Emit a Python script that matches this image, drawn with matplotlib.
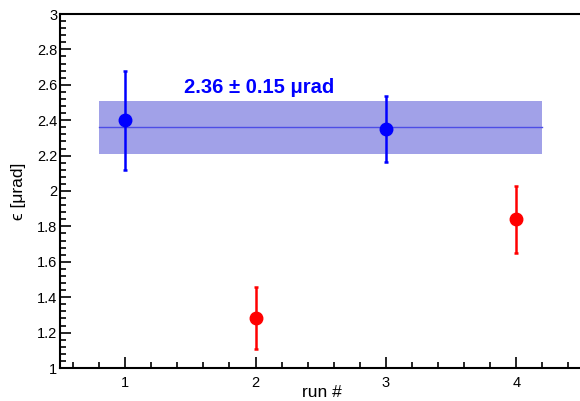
import matplotlib
matplotlib.use("Agg")
import matplotlib.pyplot as plt
from matplotlib.ticker import MultipleLocator

plt.rcParams['font.family'] = ['Liberation Sans', 'DejaVu Sans']

# data
runs_in = [1, 3]
eps_in = [2.40, 2.35]
err_in = [0.28, 0.185]

runs_out = [2, 4]
eps_out = [1.285, 1.84]
err_out = [0.175, 0.19]

mean_val = 2.36
mean_err = 0.15
band_x = [0.8, 4.2]

fig = plt.figure(figsize=(5.8, 4.01), dpi=100)
ax = fig.add_axes([60 / 580, 33 / 401, 524 / 580, 354 / 401])

# average band + line
ax.fill_between(band_x, mean_val - mean_err, mean_val + mean_err,
                color=(0.63, 0.63, 0.91), lw=0, zorder=1)
ax.plot(band_x, [mean_val, mean_val], color=(0.3, 0.3, 0.9), lw=1, zorder=2)

ax.errorbar(runs_in, eps_in, yerr=err_in, fmt='o', color='blue', ms=9,
            elinewidth=1.8, capsize=1.5, capthick=1.8, zorder=3)
ax.errorbar(runs_out, eps_out, yerr=err_out, fmt='o', color='red', ms=9,
            elinewidth=1.8, capsize=1.5, capthick=1.8, zorder=3)

ax.text(1.45, 2.585, "2.36 \u00b1 0.15 \u03bcrad", color='blue',
        fontsize=14.5, fontweight='bold', va='center', ha='left')

ax.set_xlim(0.5, 4.52)
ax.set_ylim(1, 3)
ax.xaxis.set_major_locator(MultipleLocator(1))
ax.xaxis.set_minor_locator(MultipleLocator(0.2))
ax.yaxis.set_major_locator(MultipleLocator(0.2))
ax.yaxis.set_minor_locator(MultipleLocator(0.04))
ax.yaxis.set_major_formatter(plt.FuncFormatter(lambda v, p: f"{v:g}"))

ax.tick_params(which='both', direction='in', top=False, right=False,
               labelsize=10.5, width=1.2)
ax.tick_params(which='major', length=8)
ax.tick_params(which='minor', length=4)
ax.tick_params(axis='x', pad=6)
ax.tick_params(axis='y', pad=2)
for s in ax.spines.values():
    s.set_linewidth(1.5)

ax.set_xlabel("run #", fontsize=12.5, labelpad=-4)
ax.set_ylabel("\u03f5 [\u03bcrad]", fontsize=12.5, labelpad=8)

fig.savefig("out.png", dpi=100)
